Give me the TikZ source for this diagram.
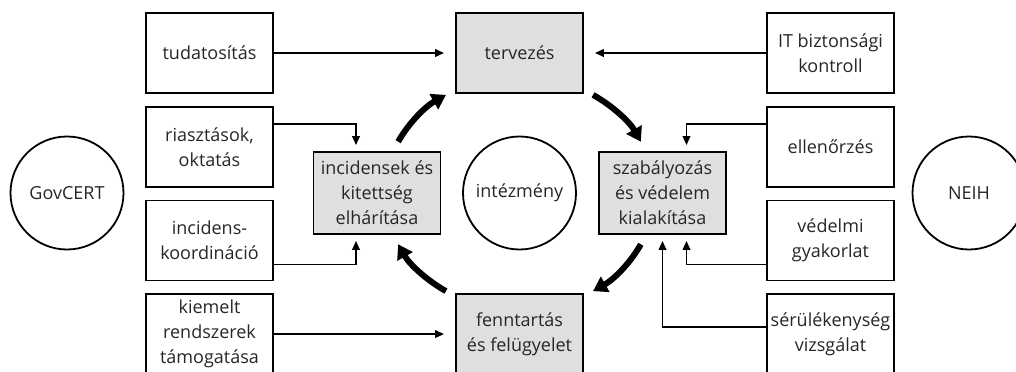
\documentclass[tikz,border=0pt]{standalone}
\usepackage{fontspec}
\setmainfont{Open Sans}
\usetikzlibrary{positioning,calc,arrows.meta}

\begin{document}
\begin{tikzpicture}[x=0.5pt, y=0.5pt, node distance=46.85pt,
  every node/.style={font=\fontsize{9pt}{12.5pt}\selectfont, text=black!85},
  box/.style={draw, line width=0.9pt, minimum width=63.5pt, minimum height=40pt, align=center, inner sep=1pt},
  core/.style={box, fill=gray!25, minimum height=41pt},
  ring/.style={draw, circle, line width=0.9pt, minimum size=56.5pt, inner sep=0pt},
  link/.style={line width=0.9pt, -{Triangle[length=4.5pt,width=3.8pt]}, shorten >=3pt},
  cyc/.style={line width=3pt, -{Triangle[length=7pt,width=8.5pt]}}]
\useasboundingbox (0,0) rectangle (1016,371);

% cycle in the middle
\node (inst)[ring] at (519.5,178) {intézmény};
\node (terv)[core, minimum height=40pt] at (519.5,318) {tervezés};
\node (fenn)[core, minimum height=40pt] at (519.5,37) {fenntartás\\és felügyelet};
\node (incid)[core] at (377,178) {incidensek és\\kitettség\\elhárítása};
\node (szab)[core] at (662.5,178) {szabályozás\\és védelem\\kialakítása};

% GovCERT side
\node (gov)[ring] at (67,178) {GovCERT};
\node (tud)[box] at (209.5,318) {tudatosítás};
\node (riaszt)[box] [below of = tud] {riasztások,\\oktatás};
\node (koord)[box] [below of = riaszt] {incidens-\\koordináció};
\node (kiem)[box] [below of = koord] {kiemelt\\rendszerek\\támogatása};

% NEIH side
\node (neih)[ring] at (969,178) {NEIH};
\node (itk)[box] at (830.5,318) {IT biztonsági\\kontroll};
\node (ell)[box] [below of = itk] {ellenőrzés};
\node (ved)[box] [below of = ell] {védelmi\\gyakorlat};
\node (ser)[box] [below of = ved] {sérülékenység\\vizsgálat};

\draw[link, shorten >=5.5pt] (tud) -- (terv);
\draw[link, shorten >=5.5pt] (itk) -- (terv);
\draw[link, shorten >=5.5pt] (kiem) -- (fenn);
\draw[link] ([yshift=11.5pt]riaszt.east) -| ([xshift=-10.5pt]incid.north);
\draw[link] ([yshift=-12pt]koord.east) -| ([xshift=-10.5pt]incid.south);
\draw[link] ([yshift=11.5pt]ell.west) -| ([xshift=12pt]szab.north);
\draw[link] ([yshift=-12pt]ved.west) -| ([xshift=12pt]szab.south);
\draw[link] ([yshift=3.5pt]ser.west) -| (szab.south);

% thick arrows round the institution
\foreach \s/\e in {154/123, 57/26, -26/-57, -123/-154}
  \draw[cyc] ($(inst)+(\s:67.5pt and 58.5pt)$) arc[start angle=\s, end angle=\e, x radius=67.5pt, y radius=58.5pt];

\end{tikzpicture}
\end{document}
